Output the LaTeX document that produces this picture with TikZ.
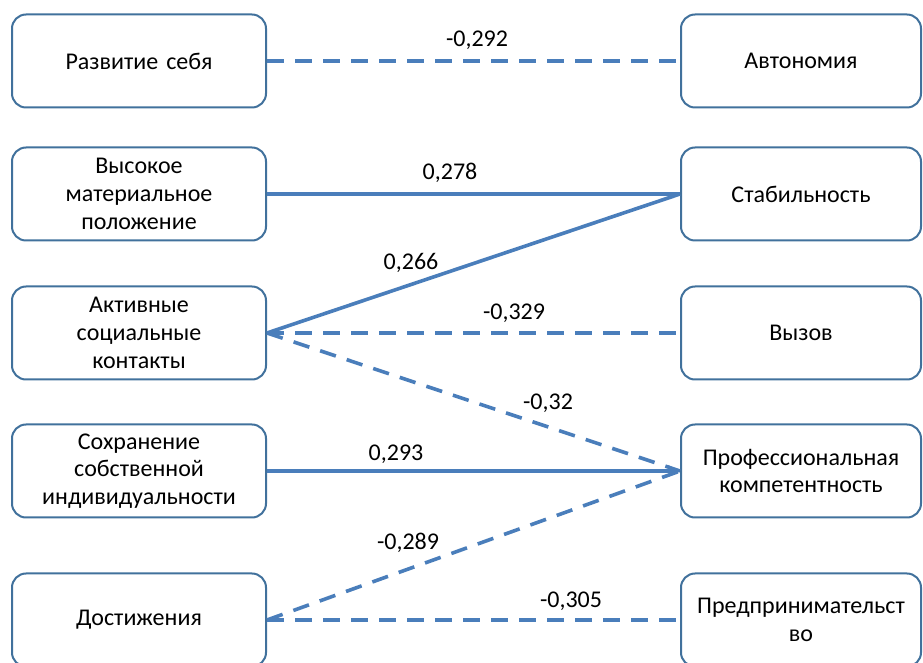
\documentclass[tikz,border=0pt]{standalone}
\usepackage{fontspec}
\setmainfont{Carlito}
\usetikzlibrary{arrows.meta}
\definecolor{boxblue}{HTML}{41719C}
\definecolor{lineblue}{HTML}{4A7EBB}

\begin{document}
\begin{tikzpicture}[x = 0.5pt, y = -0.5pt,
    font = \fontsize{12}{13.9}\selectfont,
    main/.style = {draw = boxblue, line width = 1pt, rounded corners = 7pt, align = center, minimum height = 46.5pt, inner sep = 2pt},
    leftbox/.style = {main, minimum width = 127pt, text width = 123pt},
    rightbox/.style = {main, minimum width = 120pt, text width = 116pt},
    posline/.style = {draw = lineblue, line width = 1.8pt},
    negline/.style = {posline, dash pattern = on 8.3pt off 5.7pt},
    lbl/.style = {inner sep = 0pt}]
    \useasboundingbox (0, 0) rectangle (923, 663);

    \node[leftbox](self) at (139, 61) {Развитие себя};
    \node[leftbox](wealth) at (139, 194) {Высокое\\материальное\\положение};
    \node[leftbox](social) at (139, 333) {Активные\\социальные\\контакты};
    \node[leftbox](ident) at (139, 471) {Сохранение\\собственной\\индивидуальности};
    \node[leftbox](achieve) at (139, 620) {Достижения};

    \node[rightbox](autonomy) at (801, 61) {Автономия};
    \node[rightbox](stability) at (801, 194) {Стабильность};
    \node[rightbox](challenge) at (801, 333) {Вызов};
    \node[rightbox](compet) at (801, 471) {Профессиональная\\компетентность};
    \node[rightbox](business) at (801, 620) {Предпринимательст\\во};

    \draw[negline](self.east) -- (autonomy.west);
    \draw[posline](wealth.east) -- (stability.west);
    \draw[posline](social.east) -- (stability.west);
    \draw[negline](social.east) -- (challenge.west);
    \draw[negline](social.east) -- (compet.west);
    \draw[posline, -{Stealth[length = 6pt, width = 6pt]}](ident.east) -- (compet.west);
    \draw[negline](achieve.east) -- (compet.west);
    \draw[negline](achieve.east) -- (business.west);

    \node[lbl](l1) at (477, 40) {-0,292};
    \node[lbl](l2) at (450, 173) {0,278};
    \node[lbl](l3) at (411, 263) {0,266};
    \node[lbl](l4) at (514, 313) {-0,329};
    \node[lbl](l5) at (548, 403) {-0,32};
    \node[lbl](l6) at (396, 454) {0,293};
    \node[lbl](l7) at (408, 543) {-0,289};
    \node[lbl](l8) at (571, 601) {-0,305};
\end{tikzpicture}
\end{document}
